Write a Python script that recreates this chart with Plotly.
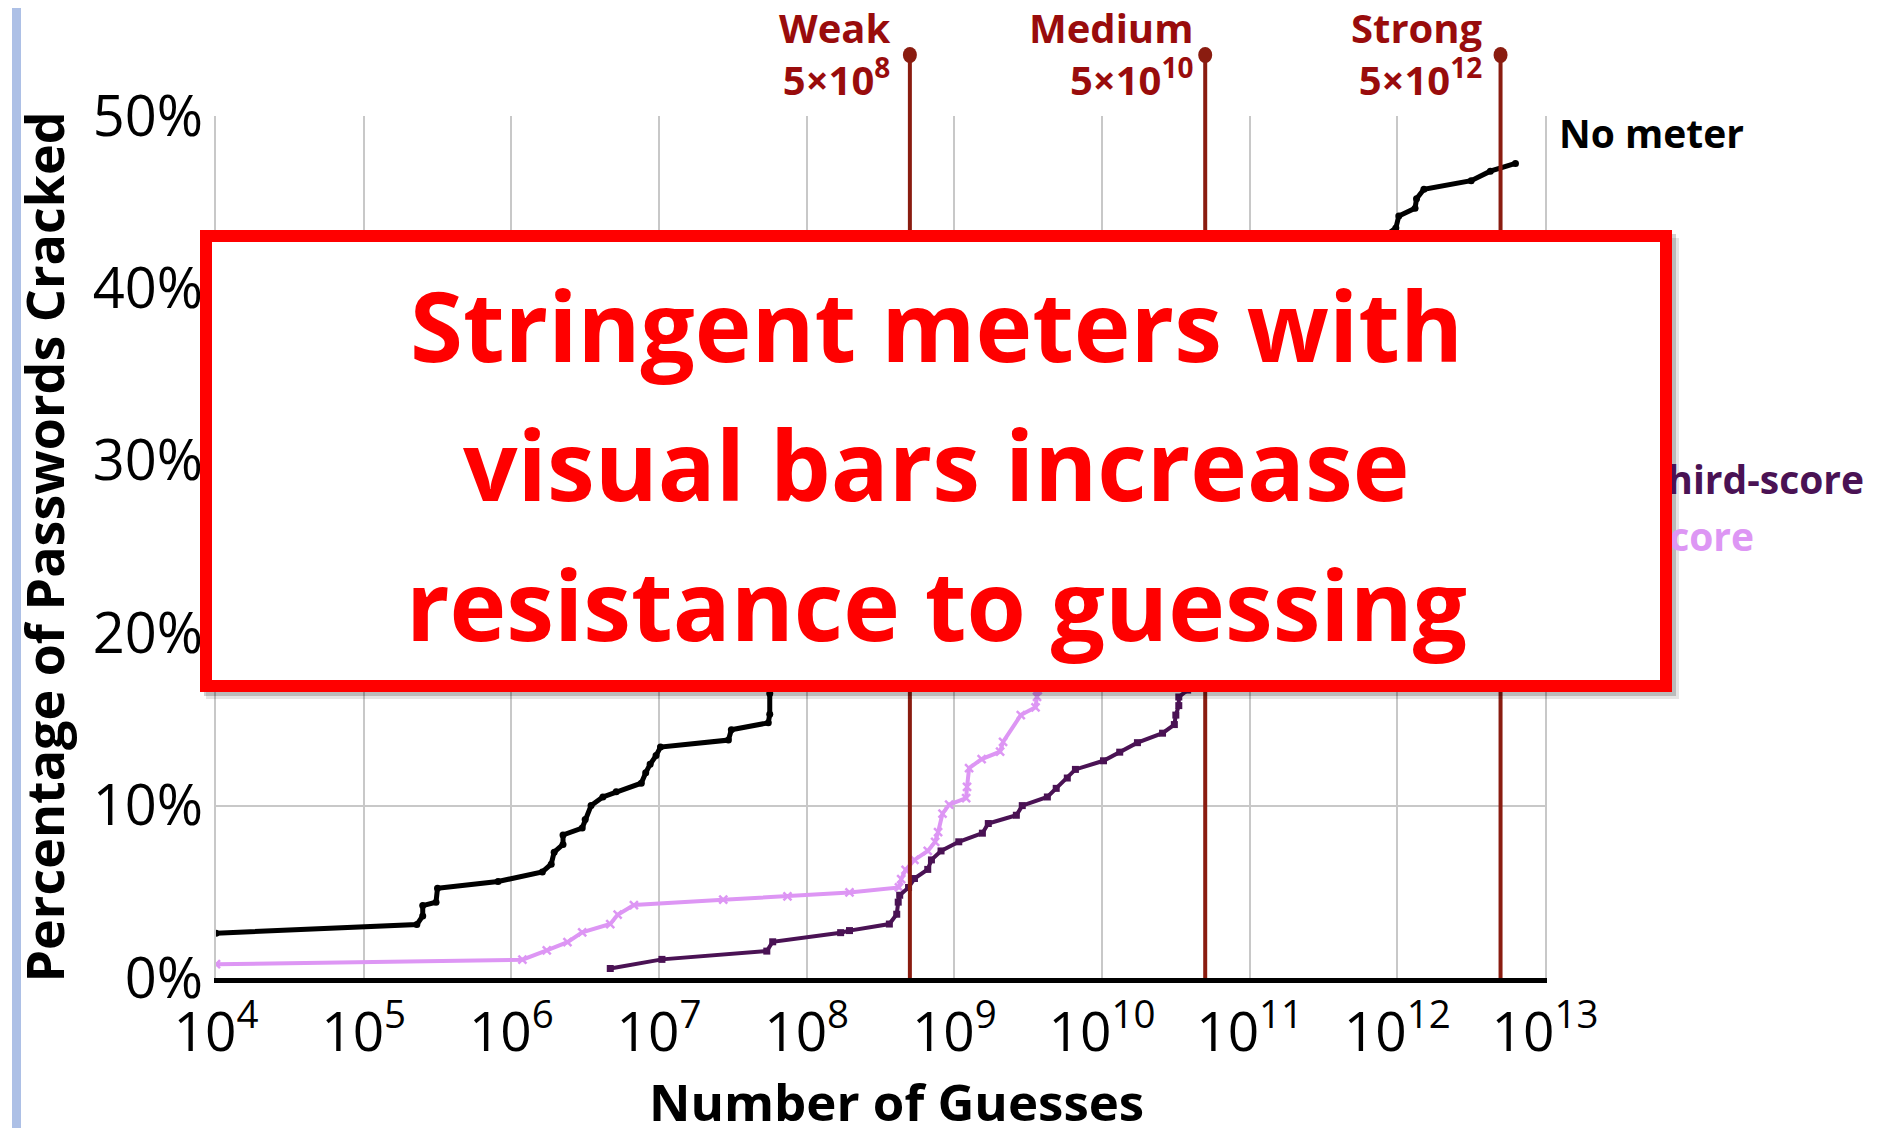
import numpy as np
import plotly.graph_objects as go

# page is offset by the browser's 8px body margin
OFF = 8
FW, FH = 1870, 1120
ML, MR, MT, MB = 208, 333, 108, 150

# ---- data (x = log10 of number of guesses, y = % cracked) ----
no_meter_exp = [4.0, 5.36, 5.40, 5.40, 5.49, 5.50, 5.91, 6.21, 6.27, 6.29, 6.35, 6.35,
                6.48, 6.50, 6.54, 6.62, 6.71, 6.88, 6.91, 6.94, 6.98, 7.01, 7.47, 7.49,
                7.74, 7.75, 7.75, 7.76, 11.99, 12.01, 12.12, 12.13, 12.18, 12.50, 12.63, 12.80]
no_meter_pct = [2.6, 3.1, 3.6, 4.2, 4.4, 5.2, 5.6, 6.15, 6.6, 7.3, 7.75, 8.3,
                8.7, 9.2, 10.0, 10.5, 10.8, 11.3, 11.9, 12.4, 12.9, 13.4, 13.8, 14.4,
                14.8, 15.3, 16.5, 17.5, 43.5, 44.2, 44.65, 45.2, 45.75, 46.25, 46.8, 47.25]

third_exp = [6.67, 7.02, 7.73, 7.77, 8.23, 8.29, 8.56, 8.61, 8.62, 8.63, 8.69, 8.73,
             8.82, 8.845, 8.91, 9.03, 9.19, 9.23, 9.42, 9.46, 9.63, 9.69, 9.765, 9.82,
             10.01, 10.12, 10.24, 10.41, 10.49, 10.50, 10.52, 10.52, 10.58, 10.6, 12.7]
third_pct = [0.55, 1.08, 1.56, 2.1, 2.63, 2.75, 3.13, 3.7, 4.4, 4.8, 5.25, 5.77,
             6.3, 6.85, 7.37, 7.9, 8.4, 8.96, 9.44, 10.0, 10.5, 11.0, 11.6, 12.1,
             12.6, 13.1, 13.65, 14.2, 14.7, 15.25, 15.8, 16.3, 16.7, 17.5, 29.0]

half_exp = [4.0, 6.075, 6.24, 6.38, 6.48, 6.67, 6.72, 6.83, 7.435, 7.87, 8.29, 8.625,
            8.64, 8.67, 8.73, 8.82, 8.87, 8.89, 8.92, 8.965, 9.08, 9.086, 9.10, 9.185,
            9.31, 9.33, 9.45, 9.55, 9.56, 9.565, 9.57, 12.7]
half_pct = [0.8, 1.06, 1.6, 2.08, 2.65, 3.13, 3.67, 4.23, 4.54, 4.73, 4.96, 5.25,
            5.73, 6.27, 6.85, 7.37, 7.9, 8.46, 9.54, 10.06, 10.44, 11.08, 12.17, 12.7,
            13.13, 13.7, 15.25, 15.7, 16.3, 16.7, 17.5, 25.7]

meter_names = ["Weak", "Medium", "Strong"]
meter_exp = [8, 10, 12]
meter_guesses = [5e8, 5e10, 5e12]

x_tick_exp = list(range(4, 14))
y_ticks = [0, 10, 20, 30, 40, 50]

DARK_RED = "#990c0c"
LINE_RED = "#8a1c10"
PURPLE = "#4a1254"
LAVENDER = "#dd96f4"
FONT = "Open Sans"


def px_x(p):
    # page pixel -> paper x
    return (p - OFF - ML) / (FW - ML - MR)


def px_y(p):
    # page pixel -> paper y
    return (FH - MB - (p - OFF)) / (FH - MT - MB)


fig = go.Figure()

fig.add_trace(go.Scatter(
    x=10 ** np.array(half_exp), y=half_pct, mode="lines+markers",
    line=dict(color=LAVENDER, width=4),
    marker=dict(symbol="x-thin", size=8, line=dict(color=LAVENDER, width=2.5), color=LAVENDER),
    name="half-score"))
fig.add_trace(go.Scatter(
    x=10 ** np.array(third_exp), y=third_pct, mode="lines+markers",
    line=dict(color=PURPLE, width=4),
    marker=dict(symbol="square", size=7, color=PURPLE),
    name="one-third-score"))
fig.add_trace(go.Scatter(
    x=10 ** np.array(no_meter_exp), y=no_meter_pct, mode="lines+markers",
    line=dict(color="black", width=5),
    marker=dict(symbol="circle", size=7, color="black"),
    name="No meter"))

shapes = []
for g in meter_guesses:
    xp = (np.log10(g) - 4) / 9
    shapes.append(dict(type="line", xref="paper", yref="paper", x0=xp, x1=xp,
                       y0=0, y1=px_y(55), line=dict(color=LINE_RED, width=4), layer="above"))
    shapes.append(dict(type="circle", xref="paper", yref="paper",
                       xsizemode="pixel", ysizemode="pixel", xanchor=xp, yanchor=px_y(55),
                       x0=-7, x1=7, y0=-8, y1=8,
                       fillcolor=LINE_RED, line=dict(width=0), layer="above"))

# soft shadow behind the callout box
shapes.append(dict(type="rect", xref="paper", yref="paper",
                   x0=px_x(206), x1=px_x(1679), y0=px_y(699), y1=px_y(238),
                   fillcolor="rgba(0,0,0,0.10)", line=dict(width=0), layer="above"))
shapes.append(dict(type="rect", xref="paper", yref="paper",
                   x0=px_x(204), x1=px_x(1676), y0=px_y(696), y1=px_y(234),
                   fillcolor="rgba(0,0,0,0.18)", line=dict(width=0), layer="above"))

# slide edge decoration on the left
shapes.append(dict(type="rect", xref="paper", yref="paper", x0=px_x(12), x1=px_x(21),
                   y0=px_y(FH + OFF), y1=px_y(OFF), fillcolor="#adc0e6", line=dict(width=0),
                   layer="above"))

annotations = []
meter_right_px = [892, 1195, 1485]
for name, e, rx in zip(meter_names, meter_exp, meter_right_px):
    annotations.append(dict(xref="paper", yref="paper", x=px_x(rx), y=px_y(53),
                            xanchor="right", yanchor="middle", align="right", showarrow=False,
                            text=f"<b>{name}</b><br><b>5×10<sup>{e}</sup></b>",
                            font=dict(family=FONT, size=40, color=DARK_RED)))

annotations.append(dict(xref="paper", yref="paper", x=px_x(1557), y=px_y(133),
                        xanchor="left", yanchor="middle", showarrow=False, text="<b>No meter</b>",
                        font=dict(family=FONT, size=39, color="black")))
annotations.append(dict(xref="paper", yref="paper", x=px_x(1866), y=px_y(478),
                        xanchor="right", yanchor="middle", showarrow=False,
                        text="<b>one-third-score</b>",
                        font=dict(family=FONT, size=39, color=PURPLE)))
annotations.append(dict(xref="paper", yref="paper", x=px_x(1756), y=px_y(535),
                        xanchor="right", yanchor="middle", showarrow=False,
                        text="<b>half-score</b>",
                        font=dict(family=FONT, size=39, color=LAVENDER)))

# x axis title, placed by hand so it sits below the tick labels
annotations.append(dict(xref="paper", yref="paper", x=px_x(896), y=px_y(1101),
                        xanchor="center", yanchor="middle", showarrow=False,
                        height=44, valign="middle",
                        text="<b>Number of Guesses</b>",
                        font=dict(family=FONT, size=51, color="black")))

# callout box (drawn after the labels so it hides part of them)
annotations.append(dict(xref="paper", yref="paper", x=px_x(936), y=px_y(461),
                        xanchor="center", yanchor="middle", showarrow=False, text=" ",
                        width=1448, height=438, bgcolor="white",
                        bordercolor="#ff0000", borderwidth=12, borderpad=0))

box_lines = ["Stringent meters with", "visual bars increase", "resistance to guessing"]
for line, cy in zip(box_lines, [324, 463, 603]):
    annotations.append(dict(xref="paper", yref="paper", x=px_x(936), y=px_y(cy),
                            xanchor="center", yanchor="middle", showarrow=False,
                            text=f"<b>{line}</b>",
                            font=dict(family=FONT, size=96, color="#ff0000")))

fig.update_layout(
    width=FW, height=FH,
    margin=dict(l=ML, r=MR, t=MT, b=MB),
    paper_bgcolor="white", plot_bgcolor="white",
    showlegend=False,
    shapes=shapes, annotations=annotations,
    xaxis=dict(type="log", range=[4, 13], automargin=False,
               tickvals=[10 ** e for e in x_tick_exp],
               ticktext=[f"10<sup>{e}</sup>" for e in x_tick_exp],
               tickfont=dict(family=FONT, size=55, color="black"),
               showgrid=True, gridcolor="#c8c8c8", gridwidth=1.5,
               showline=True, linecolor="black", linewidth=5,
               ticks="", ticklabelstandoff=2),
    yaxis=dict(range=[0, 50], tickvals=y_ticks, automargin=False,
               ticktext=[f"{v}%" for v in y_ticks],
               tickfont=dict(family=FONT, size=56, color="black"),
               showgrid=True, gridcolor="#c8c8c8", gridwidth=1.5, zeroline=False,
               showline=True, linecolor="#c8c8c8", linewidth=1.5, mirror=True,
               ticks="", ticklabelstandoff=0,
               title=dict(text="<b>Percentage of Passwords Cracked</b>", standoff=24,
                          font=dict(family=FONT, size=52, color="black"))),
)

fig.write_html("out.html")
